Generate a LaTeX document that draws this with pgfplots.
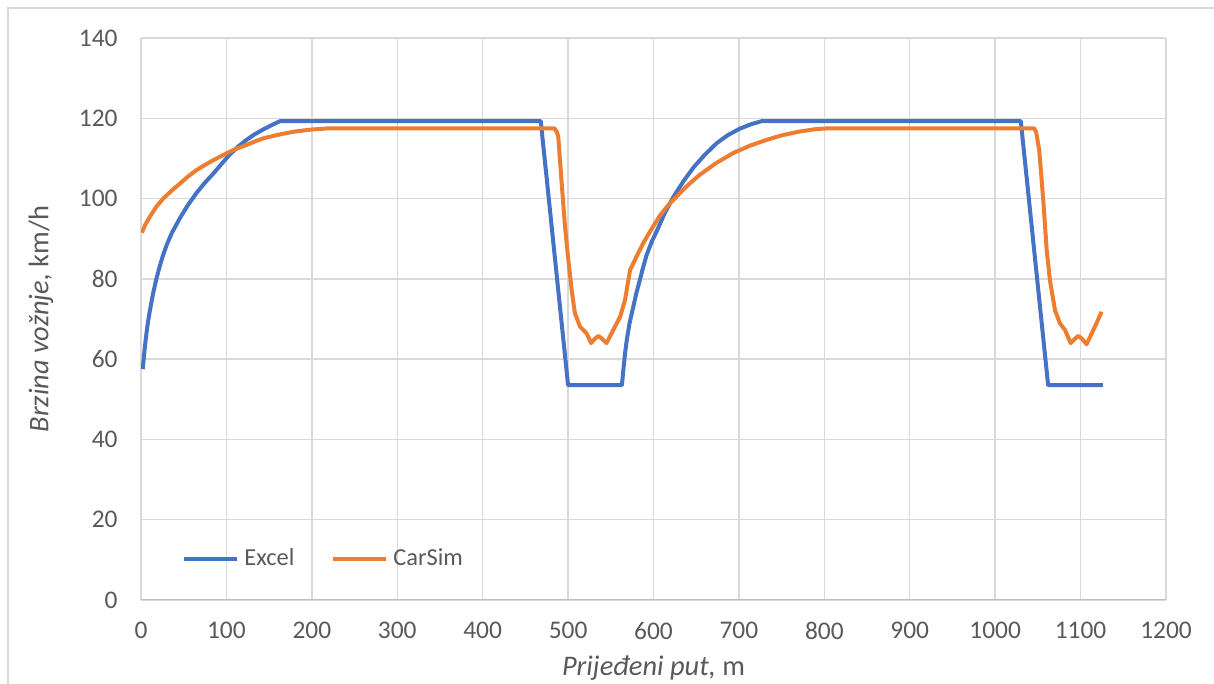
\documentclass[border=0pt]{standalone}
\usepackage{pgfplots}
\pgfplotsset{compat=1.18}
\usepackage{fontspec}
\setmainfont{Carlito}
\definecolor{exc}{HTML}{4472C4}
\definecolor{cars}{HTML}{ED7D31}
\definecolor{gridc}{HTML}{D9D9D9}
\definecolor{axisc}{HTML}{BFBFBF}
\definecolor{textc}{HTML}{595959}
\begin{document}
\begin{tikzpicture}
\useasboundingbox (0,0) rectangle (607pt,342pt);
\draw[gridc, line width=0.7pt] (4pt,0pt) -- (4pt,338pt) -- (607pt,338pt);
\begin{axis}[
  at={(70.5pt,42pt)}, anchor=south west,
  scale only axis, width=512.5pt, height=281pt,
  xmin=0, xmax=1200, ymin=0, ymax=140,
  xtick distance=100, ytick distance=20,
  grid=major,
  major grid style={draw=gridc, line width=0.7pt},
  axis line style={draw=none},
  major tick length=0pt,
  tick style={draw=none},
  /pgf/number format/assume math mode=true,
  /pgf/number format/1000 sep={},
  ticklabel style={font=\fontsize{12.7}{15}\selectfont, text=textc, inner sep=0pt},
  yticklabel style={anchor=east, xshift=-11.5pt},
  xticklabel style={anchor=north, yshift=-11pt},
  xlabel={\textit{Prijeđeni put,} m},
  ylabel={\textit{Brzina vožnje,} km/h},
  label style={font=\fontsize{14.2}{17}\selectfont, text=textc, inner sep=0pt},
  xlabel style={at={([yshift=-34pt]axis description cs:0.5,0)}, anchor=center},
  ylabel style={at={([xshift=-50pt]axis description cs:0,0.5)}, anchor=center},
  legend columns=2,
  legend style={draw=none, fill=none, inner sep=0pt,
    at={([xshift=20.5pt,yshift=20.5pt]rel axis cs:0,0)}, anchor=west,
    font=\fontsize{12.2}{14}\selectfont, text=textc,
    nodes={inner sep=0pt},
    /tikz/every even column/.append style={column sep=18.5pt}},
  legend image code/.code={\draw[#1] (0pt,0pt) -- (26.5pt,0pt);},
  legend cell align=left,
]
\draw[axisc, line width=0.8pt] (rel axis cs:0,0) -- (rel axis cs:1,0);
\addplot[exc, line width=2pt, line join=round] coordinates {
(2,57.5) (4,62) (6,65.8) (8,69) (10,71.6) (14,76.2) (18,80) (22,83.2)
(26,86) (30,88.4) (36,91.4) (46,95.3) (55,98.4) (65,101.4) (75,104)
(85,106.3) (95,108.8) (104,111) (114,113) (124,114.7) (133,116)
(143,117.2) (153,118.3) (163,119.3) (468,119.3) (500,53.5) (563,53.5)
(565,58) (567,62) (569,65.2) (572,69) (576.5,73.2) (580,76.5) (584,79.7)
(588,83) (592,86) (598,89.3) (604,92) (613,96.3) (623,100.3)
(635,104.3) (647,107.8) (660,110.9) (674,113.8) (687,115.8) (701,117.4)
(714,118.5) (727,119.3) (1030,119.3) (1062,53.5) (1126,53.5)
};
\addlegendentry{\hspace{2.5pt}Excel}
\addplot[cars, line width=2pt, line join=round] coordinates {
(1,91.5) (5,93.5) (10.5,95.5) (18,98) (26,100) (36,102) (46,103.8)
(55,105.5) (65,107.1) (75,108.4) (85,109.6) (95,110.7) (104,111.7)
(114,112.6) (124,113.4) (133,114.2) (143,115) (153,115.5) (163,116)
(180,116.7) (200,117.2) (220,117.5) (484,117.5) (487,116.5) (488.5,115.4)
(492.5,103.8) (496.4,93) (500.3,84.7) (504.2,77.2) (508,71.4) (514,68.1)
(521.7,66.4) (527,64) (531,65) (535.5,65.8) (540,65) (545,64) (553,67.3)
(561,70.6) (566.6,74.7) (572.6,82.2) (580,85.5) (588,88.9) (598,92.5)
(608,95.9) (617,98.3) (627,100.5) (640,103.3) (654,105.9) (673,108.8)
(693,111.3) (712,113.1) (732,114.6) (751,115.8) (771,116.7) (790,117.3)
(805,117.5) (1045.8,117.5) (1048,116.5) (1051.6,112) (1056.3,99.6)
(1060.3,87.2) (1064.1,79.7) (1070,72.2) (1075.8,68.9) (1081.7,67.3)
(1088.3,64) (1093,65) (1097.3,65.8) (1102,65) (1107,63.7) (1116.8,68.1)
(1124.6,71.8)
};
\addlegendentry{\hspace{2.5pt}CarSim}
\end{axis}
\end{tikzpicture}
\end{document}
